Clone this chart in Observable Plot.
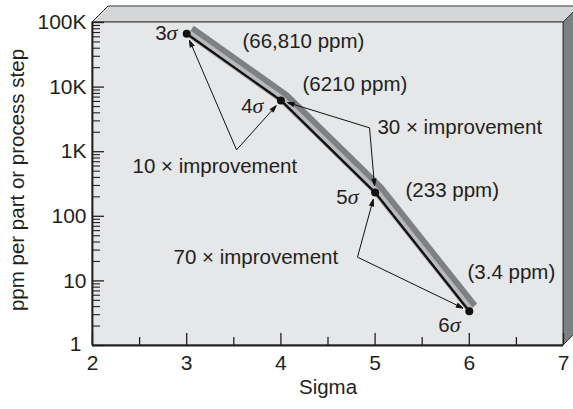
<!DOCTYPE html>
<html>
<head>
<meta charset="utf-8">
<script src="https://cdn.jsdelivr.net/npm/d3@7"></script>
<script src="https://cdn.jsdelivr.net/npm/@observablehq/plot@0.6"></script>
<style>
  html, body { margin: 0; padding: 0; background: #fff; }
</style>
</head>
<body>
<div id="chart"></div>
<script>
// ---- data ----
const sigmaLevels = [3, 4, 5, 6];
const ppmValues = [66810, 6210, 233, 3.4];
const sigmaLabels = ["3σ", "4σ", "5σ", "6σ"];
const sigmaLabelX = [2.902, 3.815, 4.824, 5.907];
const sigmaLabelY = [67500, 4960, 199, 2.04];

const ppmLabels = ["(66,810 ppm)", "(6210 ppm)", "(233 ppm)", "(3.4 ppm)"];
const ppmLabelX = [3.592, 4.229, 5.323, 5.981];
const ppmLabelY = [50700, 10900, 255, 13.6];

const improvementLabels = ["10 × improvement", "30 × improvement", "70 × improvement"];
const improvementLabelX = [2.425, 5.025, 2.860];
const improvementLabelY = [581, 2342, 23.3];
// arrow apex (where the two arrows of each note meet), in data units
const apexX = [3.529, 4.941, 4.813];
const apexY = [1067, 2342, 23.3];
// which sigma points each note points to
const apexTargets = [[0, 1], [1, 2], [2, 3]];

const xTicks = [2, 3, 4, 5, 6, 7];
const xMinorTicks = [2.5, 3.5, 4.5, 5.5, 6.5];
const yTicks = [1, 10, 100, 1000, 10000, 100000];
const yTickLabels = ["1", "10", "100", "1K", "10K", "100K"];
const yMinorTicks = [];
for (const dec of [1, 10, 100, 1000, 10000]) for (let m = 2; m <= 9; m++) yMinorTicks.push(dec * m);

const xTitle = "Sigma";
const yTitle = "ppm per part or process step";

// ---- derived tables ----
const points = sigmaLevels.map((s, i) => ({sigma: s, ppm: ppmValues[i]}));
const sigmaText = sigmaLabels.map((t, i) => ({t, x: sigmaLabelX[i], y: sigmaLabelY[i]}));
const ppmText = ppmLabels.map((t, i) => ({t, x: ppmLabelX[i], y: ppmLabelY[i]}));
const impText = improvementLabels.map((t, i) => ({t, x: improvementLabelX[i], y: improvementLabelY[i]}));
const arrows = [];
apexTargets.forEach((tg, i) => tg.forEach(j => arrows.push({
  x1: apexX[i], y1: apexY[i], x2: sigmaLevels[j], y2: ppmValues[j]
})));

// ---- layout ----
const W = 573, H = 409, mL = 92, mR = 10, mT = 22, mB = 64;
const plotW = W - mL - mR, plotH = H - mT - mB;
const ink = "#231f20";
const depth = 16;

function box(index, scales, values, dims) {
  const L = dims.marginLeft, T = dims.marginTop;
  const R = dims.width - dims.marginRight, B = dims.height - dims.marginBottom;
  const g = d3.create("svg:g");
  g.append("polygon")
    .attr("points", `${L},${T} ${L + depth},${T - depth} ${R + depth},${T - depth} ${R},${T}`)
    .attr("fill", "#d5d6d8").attr("stroke", "#3a3a3a").attr("stroke-width", 1).attr("stroke-linejoin", "round");
  g.append("polygon")
    .attr("points", `${R},${T} ${R + depth},${T - depth} ${R + depth},${B - depth} ${R},${B}`)
    .attr("fill", "#7e7f82").attr("stroke", "#3a3a3a").attr("stroke-width", 1);
  g.append("rect")
    .attr("x", L).attr("y", T).attr("width", R - L).attr("height", B - T)
    .attr("fill", "#e6e7e8").attr("stroke", "#3a3a3a").attr("stroke-width", 1);
  return g.node();
}

const chart = Plot.plot({
  width: W, height: H,
  marginLeft: mL, marginRight: mR, marginTop: mT, marginBottom: mB,
  style: {fontFamily: "'Liberation Sans', Arial, Helvetica, sans-serif", fontSize: "20.5px", color: ink, background: "#fff"},
  x: {domain: [2, 7]},
  y: {type: "log", domain: [1, 100000]},
  marks: [
    box,
    // ticks (inward)
    Plot.tickY(yMinorTicks, {y: d => d, insetRight: plotW - 8, stroke: ink, strokeWidth: 1.1}),
    Plot.tickY(yTicks, {y: d => d, insetRight: plotW - 12, stroke: ink, strokeWidth: 1.3}),
    Plot.tickX(xMinorTicks, {x: d => d, insetTop: plotH - 8, stroke: ink, strokeWidth: 1.3}),
    Plot.tickX(xTicks, {x: d => d, insetTop: plotH - 12, stroke: ink, strokeWidth: 1.3}),
    Plot.ruleX([2], {stroke: ink, strokeWidth: 1.8}),
    Plot.ruleY([1], {stroke: ink, strokeWidth: 1.8}),
    Plot.axisY({ticks: yTicks, tickSize: 0, tickPadding: 6, tickFormat: d => yTickLabels[yTicks.indexOf(d)], label: null, fontSize: 21, className: "yax"}),
    Plot.axisX({ticks: xTicks, tickSize: 0, tickPadding: 10, tickFormat: d => String(d), label: null, fontSize: 21}),
    Plot.text([xTitle], {text: d => d, frameAnchor: "bottom", dy: 48, fill: ink}),
    Plot.text([yTitle], {text: d => d, frameAnchor: "left", textAnchor: "middle", dx: -75, dy: -4, rotate: -90, fill: ink}),
    // ribbon + curve
    Plot.line(points, {x: "sigma", y: "ppm", stroke: "#7f8083", strokeWidth: 7.5, dx: 5, dy: -5, strokeLinecap: "butt"}),
    Plot.line(points, {x: "sigma", y: "ppm", stroke: "#b8b9bb", strokeWidth: 7, dx: 1, dy: -1, strokeLinecap: "butt"}),
    Plot.line(points, {x: "sigma", y: "ppm", stroke: "#111", strokeWidth: 2.4}),
    Plot.dot(points, {x: "sigma", y: "ppm", r: 4, fill: "#111"}),
    // annotations
    Plot.arrow(arrows, {x1: "x1", y1: "y1", x2: "x2", y2: "y2", insetEnd: 7, stroke: "#111", fill: "#111", strokeWidth: 1, headLength: 11, headAngle: 35, strokeLinecap: "butt"}),
    Plot.text(sigmaText, {x: "x", y: "y", text: "t", textAnchor: "end", fill: ink, className: "sig"}),
    Plot.text(ppmText, {x: "x", y: "y", text: "t", textAnchor: "start", fill: ink}),
    Plot.text(impText, {x: "x", y: "y", text: "t", textAnchor: "start", fill: ink})
  ]
});

// italic serif sigma glyph
d3.select(chart).selectAll(".sig text").each(function () {
  const t = this.textContent;
  const num = t.slice(0, -1), sym = t.slice(-1);
  const sel = d3.select(this);
  sel.text(null);
  sel.append("tspan").text(num);
  sel.append("tspan").text(sym).attr("font-style", "italic").attr("font-family", "'Liberation Serif', 'Times New Roman', serif").attr("font-size", "22px");
});
// the "1" label sits a bit further left/up in the original, clear of the "2"
d3.select(chart).selectAll(".yax text").filter(function () { return this.textContent === "1"; })
  .attr("dx", -5).attr("dy", "-0.05em");

document.getElementById("chart").appendChild(chart);
</script>
</body>
</html>
